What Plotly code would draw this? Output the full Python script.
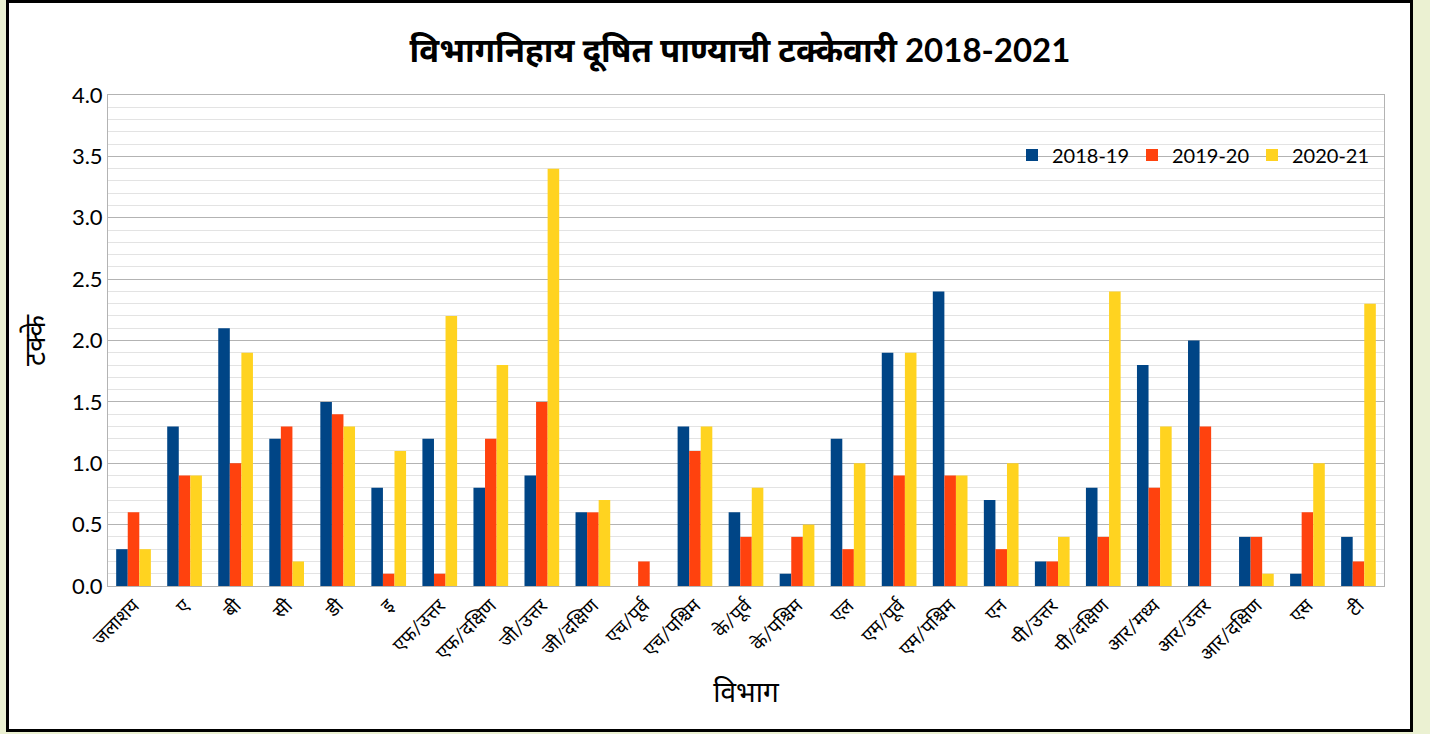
import plotly.graph_objects as go

categories = ["जलाशय", "ए", "बी", "सी", "डी", "इ", "एफ/उत्तर", "एफ/दक्षिण", "जी/उत्तर", "जी/दक्षिण",
              "एच/पूर्व", "एच/पश्चिम", "के/पूर्व", "के/पश्चिम", "एल", "एम/पूर्व", "एम/पश्चिम", "एन",
              "पी/उत्तर", "पी/दक्षिण", "आर/मध्य", "आर/उत्तर", "आर/दक्षिण", "एस", "टी"]
s2018_19 = [0.3, 1.3, 2.1, 1.2, 1.5, 0.8, 1.2, 0.8, 0.9, 0.6, 0.0, 1.3, 0.6, 0.1, 1.2, 1.9, 2.4, 0.7, 0.2, 0.8, 1.8, 2.0, 0.4, 0.1, 0.4]
s2019_20 = [0.6, 0.9, 1.0, 1.3, 1.4, 0.1, 0.1, 1.2, 1.5, 0.6, 0.2, 1.1, 0.4, 0.4, 0.3, 0.9, 0.9, 0.3, 0.2, 0.4, 0.8, 1.3, 0.4, 0.6, 0.2]
s2020_21 = [0.3, 0.9, 1.9, 0.2, 1.3, 1.1, 2.2, 1.8, 3.4, 0.7, 0.0, 1.3, 0.8, 0.5, 1.0, 1.9, 0.9, 1.0, 0.4, 2.4, 1.3, 0.0, 0.1, 1.0, 2.3]
series_names = ["2018-19", "2019-20", "2020-21"]
colors = ["#004586", "#FF420E", "#FFD320"]
y_ticks = [0.0, 0.5, 1.0, 1.5, 2.0, 2.5, 3.0, 3.5, 4.0]

FONT = "Lato, 'Noto Sans Devanagari', 'Noto Sans', sans-serif"
BG = "#EBF1D2"

W, H = 1430, 734
L, R, T, B = 108, 46, 95, 148
pw, ph = W - L - R, H - T - B

def px(x):
    return (x - L) / pw

def py(y):
    return (H - B - y) / ph

fig = go.Figure()
for name, vals, c in zip(series_names, [s2018_19, s2019_20, s2020_21], colors):
    fig.add_trace(go.Bar(x=categories, y=vals, name=name, marker=dict(color=c, line=dict(width=0))))

fig.update_layout(
    width=W, height=H,
    margin=dict(l=L, r=R, t=T, b=B),
    paper_bgcolor=BG,
    plot_bgcolor="white",
    barmode="group", bargap=0.32, bargroupgap=0,
    font=dict(family=FONT, color="black"),
    title=dict(text="<b>विभागनिहाय दूषित पाण्याची टक्केवारी 2018-2021</b>",
               x=px(740), xanchor="center", xref="paper", y=1 - 50 / H, yanchor="middle",
               font=dict(size=33, family=FONT, color="black")),
    legend=dict(orientation="h", x=px(1012), xanchor="left", y=py(155), yanchor="middle",
                bgcolor="rgba(0,0,0,0)", font=dict(size=20, family=FONT), traceorder="normal",
                itemwidth=30, entrywidth=75, entrywidthmode="pixels"),
    shapes=[dict(type="rect", xref="paper", yref="paper",
                 x0=px(7.5), x1=px(1411.5), y0=py(730.5), y1=py(1.5),
                 fillcolor="white", line=dict(color="black", width=3), layer="below")],
)
fig.update_xaxes(tickangle=-45, tickfont=dict(size=19, family=FONT), showline=True, linecolor="#b3b3b3",
                 mirror=True, showgrid=False, ticks="",
                 title=dict(text="विभाग", font=dict(size=28, family=FONT), standoff=18))
fig.update_yaxes(range=[0, 4], tickvals=y_ticks, ticktext=[f"{v:.1f}" for v in y_ticks],
                 tickfont=dict(size=22, family=FONT), showline=True, linecolor="#b3b3b3", mirror=True,
                 gridcolor="#b3b3b3", gridwidth=1, zeroline=False, ticks="", ticklen=0,
                 minor=dict(dtick=0.1, showgrid=True, gridcolor="#e3e3e3", gridwidth=1),
                 title=dict(text="टक्के", font=dict(size=28, family=FONT), standoff=18))

fig.write_html("out.html", config={"displayModeBar": False},
               post_script="document.body.style.margin='0';document.body.style.background='%s';" % BG)
